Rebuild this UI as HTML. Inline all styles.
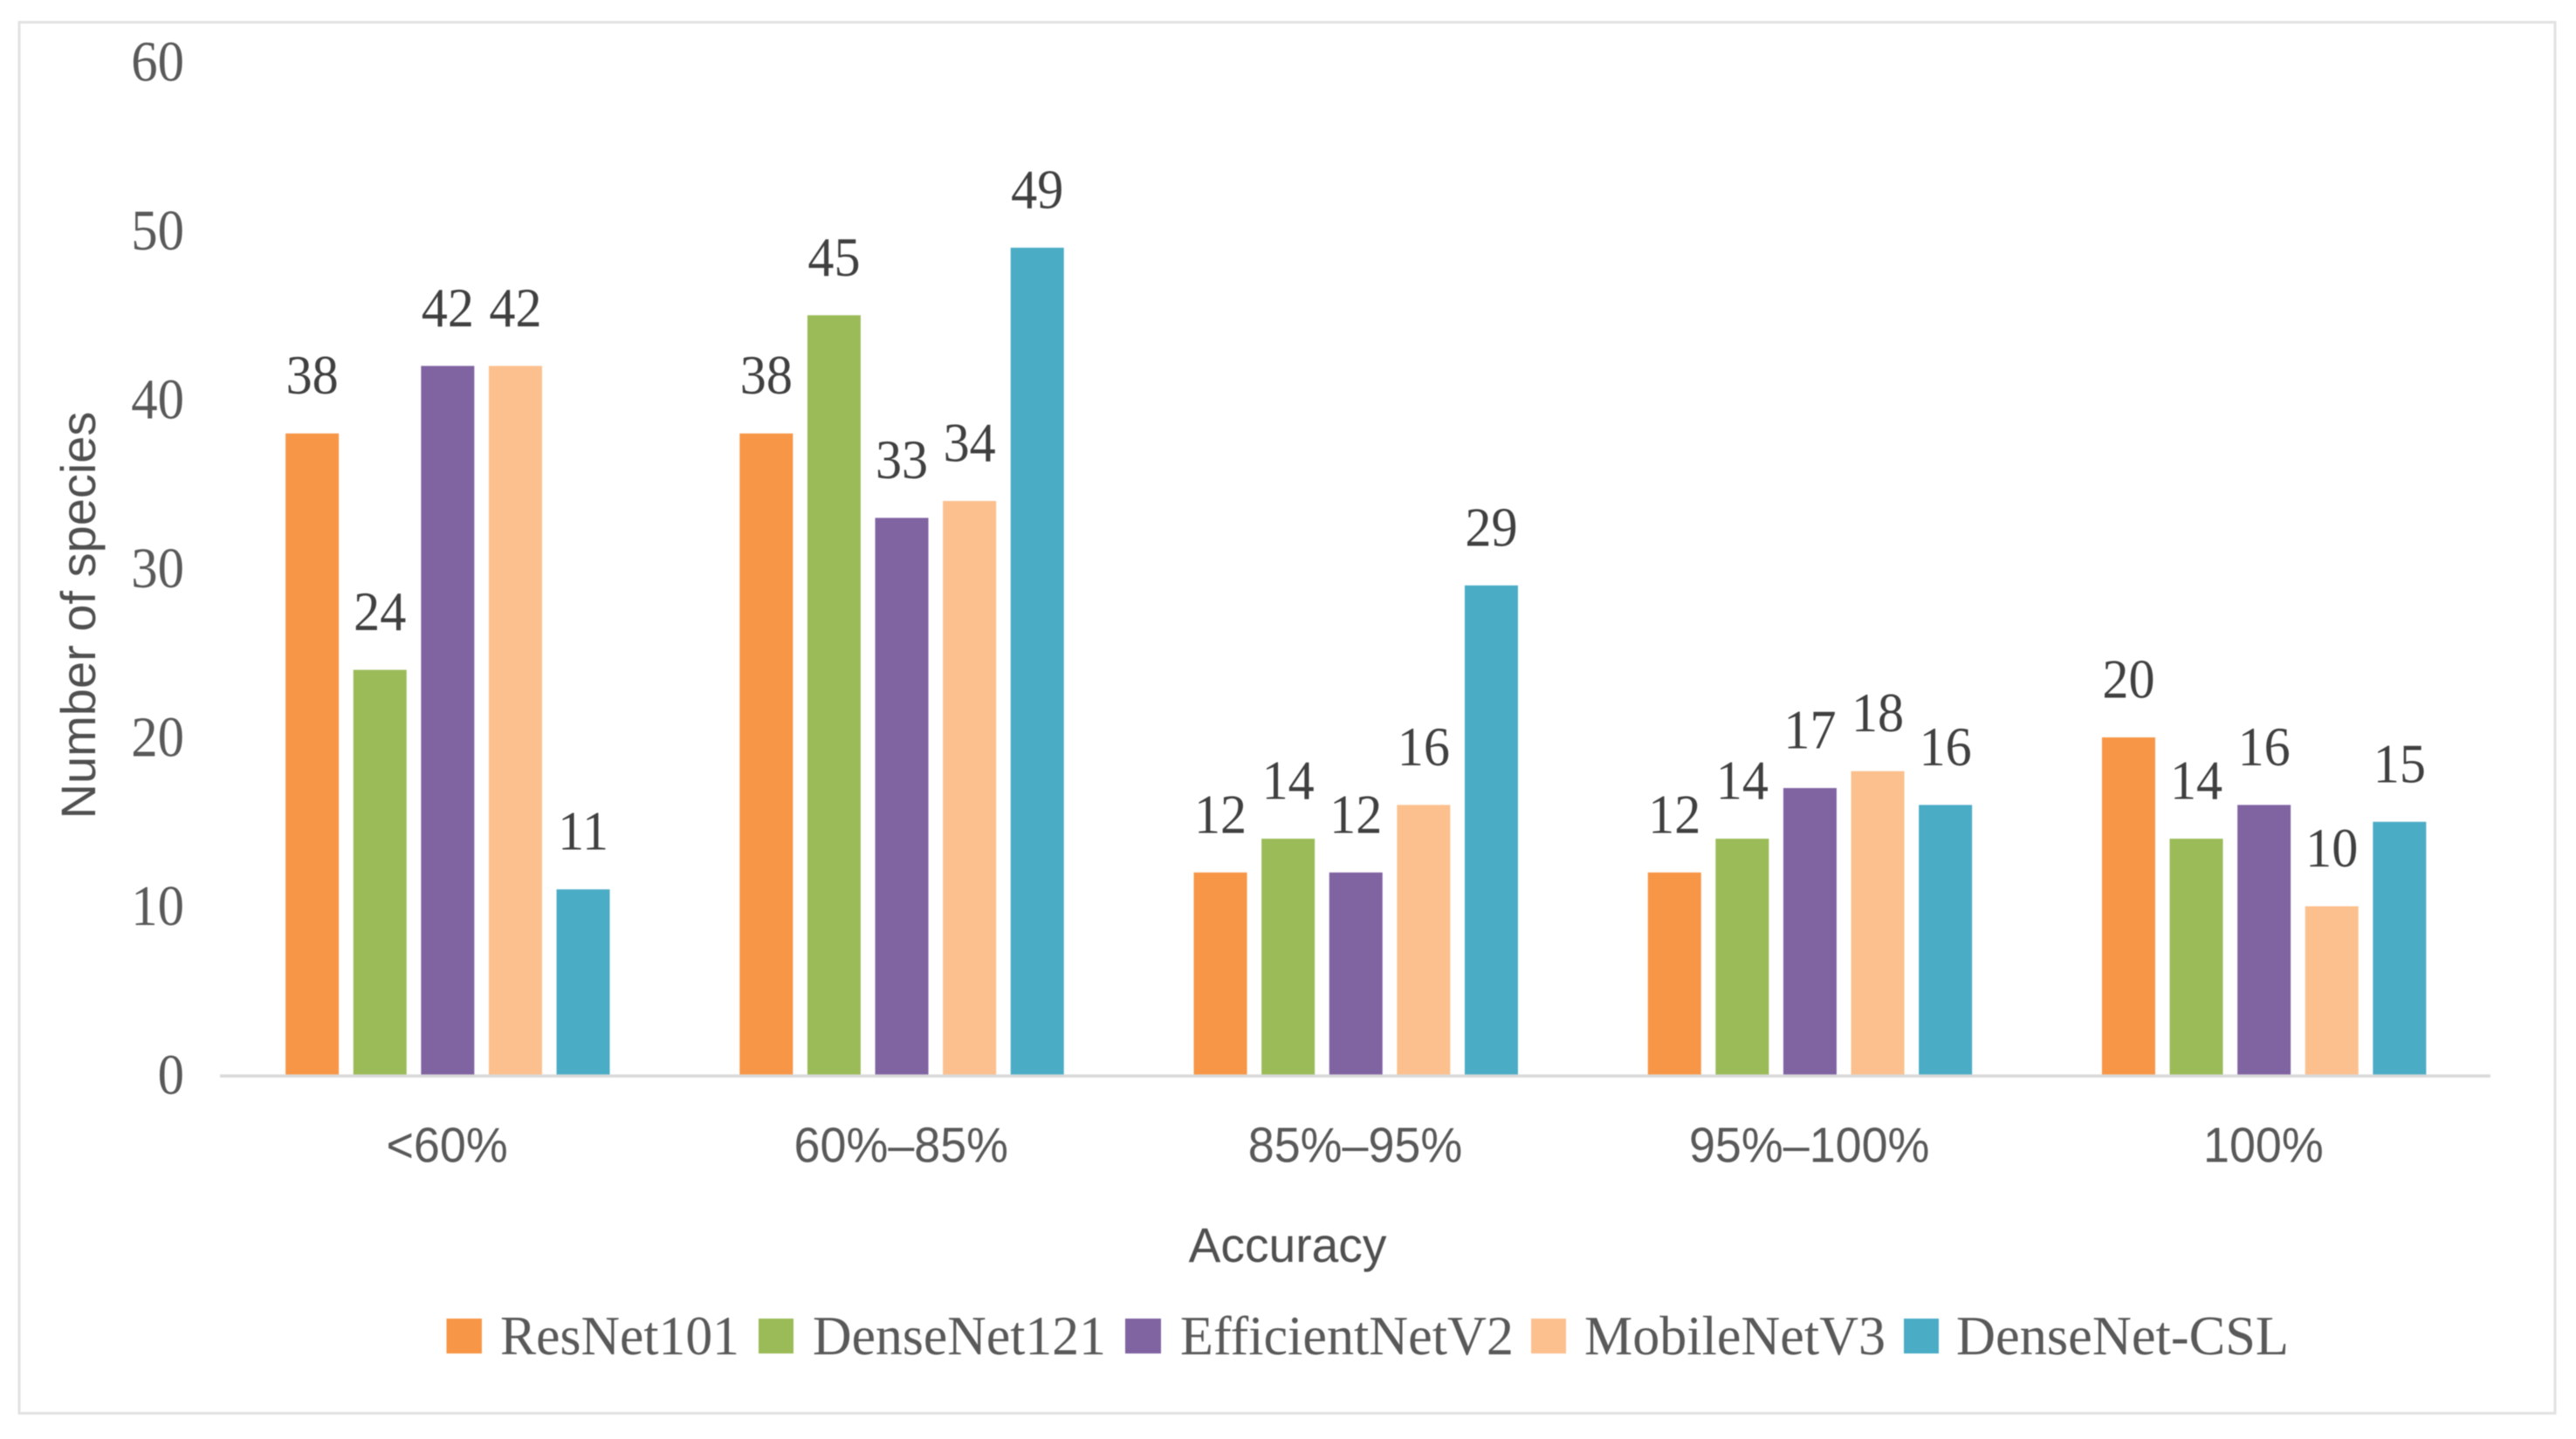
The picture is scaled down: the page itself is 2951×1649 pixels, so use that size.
<!DOCTYPE html>
<html lang="en">
<head>
<meta charset="utf-8">
<title>Number of species by accuracy range</title>
<style>
html,body{margin:0;padding:0;background:#fff;width:2951px;height:1649px;overflow:hidden}
svg{display:block;filter:blur(.6px)}
.serif{font-family:"Liberation Serif",serif}
.sans{font-family:"Liberation Sans",sans-serif}
</style>
</head>
<body>
<svg id="chart" xmlns="http://www.w3.org/2000/svg" width="2951" height="1649" viewBox="0 0 2951 1649">
  <rect x="0" y="0" width="2951" height="1649" fill="#ffffff"/>
  <rect x="22" y="25.5" width="2905" height="1594" fill="#ffffff" stroke="#e2e2e2" stroke-width="3"/>
  <g id="bars"></g>
  <line x1="252" x2="2853" y1="1233" y2="1233" stroke="#d9d9d9" stroke-width="3.5"/>
  <g id="y-ticks"></g>
  <g id="x-ticks"></g>
  <g id="data-labels"></g>
  <text class="sans" font-size="56" fill="#505050" text-anchor="middle" transform="translate(109,705) rotate(-90)">Number of species</text>
  <text class="sans" font-size="56" fill="#505050" text-anchor="middle" transform="translate(1475,1446) scale(.985,1)">Accuracy</text>
  <g>
    <g>
      <rect x="511.5" y="1511" width="40.5" height="40" fill="#F79646"/>
      <text class="serif" font-size="64" fill="#595959" x="573" y="1552" textLength="274" lengthAdjust="spacingAndGlyphs">ResNet101</text>
    </g>
    <g>
      <rect x="869" y="1511" width="40" height="40" fill="#9BBB59"/>
      <text class="serif" font-size="64" fill="#595959" x="931" y="1552" textLength="336" lengthAdjust="spacingAndGlyphs">DenseNet121</text>
    </g>
    <g>
      <rect x="1289" y="1511" width="41" height="40" fill="#8064A2"/>
      <text class="serif" font-size="64" fill="#595959" x="1352" y="1552" textLength="382" lengthAdjust="spacingAndGlyphs">EfficientNetV2</text>
    </g>
    <g>
      <rect x="1754" y="1511" width="40" height="40" fill="#FCC08E"/>
      <text class="serif" font-size="64" fill="#595959" x="1815" y="1552" textLength="345" lengthAdjust="spacingAndGlyphs">MobileNetV3</text>
    </g>
    <g>
      <rect x="2181" y="1511" width="40" height="40" fill="#4BACC6"/>
      <text class="serif" font-size="64" fill="#595959" x="2241" y="1552" textLength="381" lengthAdjust="spacingAndGlyphs">DenseNet-CSL</text>
    </g>
  </g>
</svg>
<script>
const categories = ["<60%", "60%–85%", "85%–95%", "95%–100%", "100%"];
const seriesNames = ["ResNet101", "DenseNet121", "EfficientNetV2", "MobileNetV3", "DenseNet-CSL"];
const resnet101 = [38, 38, 12, 12, 20];
const densenet121 = [24, 45, 14, 14, 14];
const efficientnetV2 = [42, 33, 12, 17, 16];
const mobilenetV3 = [42, 34, 16, 18, 10];
const densenetCSL = [11, 49, 29, 16, 15];
const seriesColors = ["#F79646", "#9BBB59", "#8064A2", "#FCC08E", "#4BACC6"];
const yTicks = [0, 10, 20, 30, 40, 50, 60];

const allSeries = [resnet101, densenet121, efficientnetV2, mobilenetV3, densenetCSL];
const NS = "http://www.w3.org/2000/svg";
const plotLeft = 252, plotRight = 2853, baseY = 1232, unit = 19.35;
const bandWidth = (plotRight - plotLeft) / categories.length;
const barWidth = 61, barStep = 77.6;

function yScale(v) { return baseY - v * unit; }
function xBand(i) { return plotLeft + bandWidth * (i + 0.5); }
function xBar(i, s) { return xBand(i) + 0.75 + (s - (allSeries.length - 1) / 2) * barStep; }

const barsGroup = document.getElementById("bars");
const labelsGroup = document.getElementById("data-labels");
allSeries.forEach(function (values, s) {
  values.forEach(function (v, i) {
    const rect = document.createElementNS(NS, "rect");
    rect.setAttribute("x", xBar(i, s) - barWidth / 2);
    rect.setAttribute("y", yScale(v));
    rect.setAttribute("width", barWidth);
    rect.setAttribute("height", baseY - yScale(v));
    rect.setAttribute("fill", seriesColors[s]);
    
    
    barsGroup.appendChild(rect);

    const label = document.createElementNS(NS, "text");
    label.textContent = String(v);
    label.setAttribute("text-anchor", "middle");
    label.setAttribute("class", "serif");
    label.setAttribute("font-size", "64");
    label.setAttribute("fill", "#404040");
    label.setAttribute("transform", "translate(" + xBar(i, s) + "," + (yScale(v) - 45.5) + ") scale(.94,1)");
    
    
    labelsGroup.appendChild(label);
  });
});

const yTickGroup = document.getElementById("y-ticks");
yTicks.forEach(function (t) {
  const tick = document.createElementNS(NS, "text");
  tick.textContent = String(t);
  tick.setAttribute("text-anchor", "end");
  tick.setAttribute("class", "serif");
  tick.setAttribute("font-size", "66");
  tick.setAttribute("fill", "#595959");
  tick.setAttribute("transform", "translate(211," + (yScale(t) + 21.5) + ") scale(.92,1)");
  
  
  yTickGroup.appendChild(tick);
});

const xTickGroup = document.getElementById("x-ticks");
categories.forEach(function (c, i) {
  const tick = document.createElementNS(NS, "text");
  tick.textContent = c;
  tick.setAttribute("text-anchor", "middle");
  tick.setAttribute("class", "sans");
  tick.setAttribute("font-size", "57");
  tick.setAttribute("fill", "#595959");
  tick.setAttribute("transform", "translate(" + xBand(i) + ",1331.5) scale(.945,1)");
  
  
  xTickGroup.appendChild(tick);
});
</script>
</body>
</html>
